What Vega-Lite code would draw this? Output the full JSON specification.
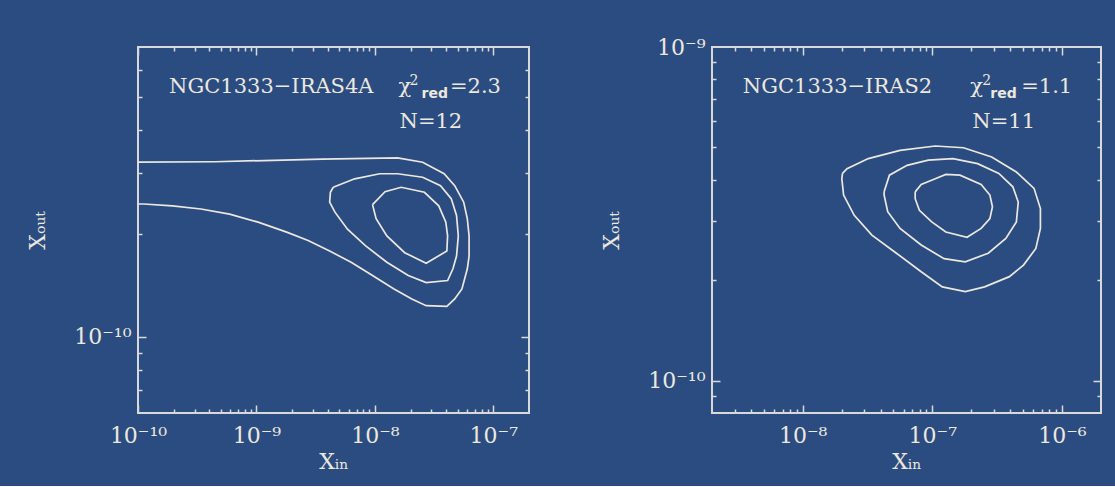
{
  "$schema": "https://vega.github.io/schema/vega-lite/v6.json",
  "background": "#2b4c80",
  "padding": {"left": 25, "top": 35, "right": 15, "bottom": 13},
  "bounds": "flush",
  "spacing": 183,
  "datasets": {
    "contours": [
      {"p":"L","c":1,"o":1,"xin":1e-10,"xout":3.23e-10},
      {"p":"L","c":1,"o":2,"xin":4.49e-10,"xout":3.24e-10},
      {"p":"L","c":1,"o":3,"xin":3.61e-9,"xout":3.30e-10},
      {"p":"L","c":1,"o":4,"xin":1.554e-8,"xout":3.325e-10},
      {"p":"L","c":1,"o":5,"xin":2.53e-8,"xout":3.23e-10},
      {"p":"L","c":1,"o":6,"xin":3.84e-8,"xout":2.99e-10},
      {"p":"L","c":1,"o":7,"xin":4.72e-8,"xout":2.76e-10},
      {"p":"L","c":1,"o":8,"xin":5.62e-8,"xout":2.47e-10},
      {"p":"L","c":1,"o":9,"xin":6.03e-8,"xout":2.21e-10},
      {"p":"L","c":1,"o":10,"xin":6.24e-8,"xout":1.97e-10},
      {"p":"L","c":1,"o":11,"xin":6.24e-8,"xout":1.72e-10},
      {"p":"L","c":1,"o":12,"xin":6.03e-8,"xout":1.58e-10},
      {"p":"L","c":1,"o":13,"xin":5.43e-8,"xout":1.38e-10},
      {"p":"L","c":1,"o":14,"xin":4.72e-8,"xout":1.29e-10},
      {"p":"L","c":1,"o":15,"xin":4.05e-8,"xout":1.227e-10},
      {"p":"L","c":1,"o":16,"xin":2.71e-8,"xout":1.233e-10},
      {"p":"L","c":1,"o":17,"xin":2.05e-8,"xout":1.29e-10},
      {"p":"L","c":1,"o":18,"xin":1.45e-8,"xout":1.38e-10},
      {"p":"L","c":1,"o":19,"xin":9.55e-9,"xout":1.51e-10},
      {"p":"L","c":1,"o":20,"xin":6.30e-9,"xout":1.65e-10},
      {"p":"L","c":1,"o":21,"xin":4.15e-9,"xout":1.78e-10},
      {"p":"L","c":1,"o":22,"xin":2.73e-9,"xout":1.91e-10},
      {"p":"L","c":1,"o":23,"xin":1.80e-9,"xout":2.02e-10},
      {"p":"L","c":1,"o":24,"xin":1.033e-9,"xout":2.16e-10},
      {"p":"L","c":1,"o":25,"xin":5.93e-10,"xout":2.28e-10},
      {"p":"L","c":1,"o":26,"xin":3.40e-10,"xout":2.36e-10},
      {"p":"L","c":1,"o":27,"xin":1.95e-10,"xout":2.41e-10},
      {"p":"L","c":1,"o":28,"xin":1.118e-10,"xout":2.44e-10},
      {"p":"L","c":1,"o":29,"xin":1e-10,"xout":2.44e-10},

      {"p":"L","c":2,"o":1,"xin":4.45e-9,"xout":2.73e-10},
      {"p":"L","c":2,"o":2,"xin":6.75e-9,"xout":2.89e-10},
      {"p":"L","c":2,"o":3,"xin":1.098e-8,"xout":2.99e-10},
      {"p":"L","c":2,"o":4,"xin":1.554e-8,"xout":2.99e-10},
      {"p":"L","c":2,"o":5,"xin":2.53e-8,"xout":2.92e-10},
      {"p":"L","c":2,"o":6,"xin":3.58e-8,"xout":2.76e-10},
      {"p":"L","c":2,"o":7,"xin":4.41e-8,"xout":2.53e-10},
      {"p":"L","c":2,"o":8,"xin":4.89e-8,"xout":2.26e-10},
      {"p":"L","c":2,"o":9,"xin":5.06e-8,"xout":1.97e-10},
      {"p":"L","c":2,"o":10,"xin":4.89e-8,"xout":1.72e-10},
      {"p":"L","c":2,"o":11,"xin":4.56e-8,"xout":1.58e-10},
      {"p":"L","c":2,"o":12,"xin":4.11e-8,"xout":1.46e-10},
      {"p":"L","c":2,"o":13,"xin":2.71e-8,"xout":1.44e-10},
      {"p":"L","c":2,"o":14,"xin":1.913e-8,"xout":1.51e-10},
      {"p":"L","c":2,"o":15,"xin":1.262e-8,"xout":1.65e-10},
      {"p":"L","c":2,"o":16,"xin":8.31e-9,"xout":1.845e-10},
      {"p":"L","c":2,"o":17,"xin":5.87e-9,"xout":2.06e-10},
      {"p":"L","c":2,"o":18,"xin":4.60e-9,"xout":2.31e-10},
      {"p":"L","c":2,"o":19,"xin":4.15e-9,"xout":2.47e-10},
      {"p":"L","c":2,"o":20,"xin":4.21e-9,"xout":2.64e-10},
      {"p":"L","c":2,"o":21,"xin":4.45e-9,"xout":2.73e-10},

      {"p":"L","c":3,"o":1,"xin":9.55e-9,"xout":2.43e-10},
      {"p":"L","c":3,"o":2,"xin":1.218e-8,"xout":2.65e-10},
      {"p":"L","c":3,"o":3,"xin":1.666e-8,"xout":2.73e-10},
      {"p":"L","c":3,"o":4,"xin":2.62e-8,"xout":2.64e-10},
      {"p":"L","c":3,"o":5,"xin":3.46e-8,"xout":2.41e-10},
      {"p":"L","c":3,"o":6,"xin":3.97e-8,"xout":2.16e-10},
      {"p":"L","c":3,"o":7,"xin":4.11e-8,"xout":1.97e-10},
      {"p":"L","c":3,"o":8,"xin":4.05e-8,"xout":1.78e-10},
      {"p":"L","c":3,"o":9,"xin":2.71e-8,"xout":1.64e-10},
      {"p":"L","c":3,"o":10,"xin":1.785e-8,"xout":1.76e-10},
      {"p":"L","c":3,"o":11,"xin":1.262e-8,"xout":1.97e-10},
      {"p":"L","c":3,"o":12,"xin":1.024e-8,"xout":2.21e-10},
      {"p":"L","c":3,"o":13,"xin":9.55e-9,"xout":2.43e-10},

      {"p":"R","c":1,"o":1,"xin":2.03e-8,"xout":4.18e-10},
      {"p":"R","c":1,"o":2,"xin":2.20e-8,"xout":4.32e-10},
      {"p":"R","c":1,"o":3,"xin":3.21e-8,"xout":4.63e-10},
      {"p":"R","c":1,"o":4,"xin":5.64e-8,"xout":4.90e-10},
      {"p":"R","c":1,"o":5,"xin":1.054e-7,"xout":5.05e-10},
      {"p":"R","c":1,"o":6,"xin":1.74e-7,"xout":4.99e-10},
      {"p":"R","c":1,"o":7,"xin":2.87e-7,"xout":4.68e-10},
      {"p":"R","c":1,"o":8,"xin":4.45e-7,"xout":4.22e-10},
      {"p":"R","c":1,"o":9,"xin":6.09e-7,"xout":3.77e-10},
      {"p":"R","c":1,"o":10,"xin":6.82e-7,"xout":3.28e-10},
      {"p":"R","c":1,"o":11,"xin":6.82e-7,"xout":2.86e-10},
      {"p":"R","c":1,"o":12,"xin":6.29e-7,"xout":2.49e-10},
      {"p":"R","c":1,"o":13,"xin":5.05e-7,"xout":2.22e-10},
      {"p":"R","c":1,"o":14,"xin":3.93e-7,"xout":2.05e-10},
      {"p":"R","c":1,"o":15,"xin":2.53e-7,"xout":1.91e-10},
      {"p":"R","c":1,"o":16,"xin":1.795e-7,"xout":1.85e-10},
      {"p":"R","c":1,"o":17,"xin":1.195e-7,"xout":1.91e-10},
      {"p":"R","c":1,"o":18,"xin":8.21e-8,"xout":2.12e-10},
      {"p":"R","c":1,"o":19,"xin":5.29e-8,"xout":2.41e-10},
      {"p":"R","c":1,"o":20,"xin":3.42e-8,"xout":2.73e-10},
      {"p":"R","c":1,"o":21,"xin":2.50e-8,"xout":3.13e-10},
      {"p":"R","c":1,"o":22,"xin":2.07e-8,"xout":3.60e-10},
      {"p":"R","c":1,"o":23,"xin":2.005e-8,"xout":4.03e-10},
      {"p":"R","c":1,"o":24,"xin":2.03e-8,"xout":4.18e-10},

      {"p":"R","c":2,"o":1,"xin":4.25e-8,"xout":3.68e-10},
      {"p":"R","c":2,"o":2,"xin":4.67e-8,"xout":4.13e-10},
      {"p":"R","c":2,"o":3,"xin":6.39e-8,"xout":4.42e-10},
      {"p":"R","c":2,"o":4,"xin":9.30e-8,"xout":4.58e-10},
      {"p":"R","c":2,"o":5,"xin":1.442e-7,"xout":4.63e-10},
      {"p":"R","c":2,"o":6,"xin":2.236e-7,"xout":4.47e-10},
      {"p":"R","c":2,"o":7,"xin":3.26e-7,"xout":4.18e-10},
      {"p":"R","c":2,"o":8,"xin":4.18e-7,"xout":3.81e-10},
      {"p":"R","c":2,"o":9,"xin":4.60e-7,"xout":3.43e-10},
      {"p":"R","c":2,"o":10,"xin":4.45e-7,"xout":2.99e-10},
      {"p":"R","c":2,"o":11,"xin":3.69e-7,"xout":2.67e-10},
      {"p":"R","c":2,"o":12,"xin":2.70e-7,"xout":2.41e-10},
      {"p":"R","c":2,"o":13,"xin":1.795e-7,"xout":2.27e-10},
      {"p":"R","c":2,"o":14,"xin":1.233e-7,"xout":2.32e-10},
      {"p":"R","c":2,"o":15,"xin":8.21e-8,"xout":2.55e-10},
      {"p":"R","c":2,"o":16,"xin":5.64e-8,"xout":2.86e-10},
      {"p":"R","c":2,"o":17,"xin":4.53e-8,"xout":3.21e-10},
      {"p":"R","c":2,"o":18,"xin":4.25e-8,"xout":3.60e-10},
      {"p":"R","c":2,"o":19,"xin":4.25e-8,"xout":3.68e-10},

      {"p":"R","c":3,"o":1,"xin":7.38e-8,"xout":3.68e-10},
      {"p":"R","c":3,"o":2,"xin":8.21e-8,"xout":3.87e-10},
      {"p":"R","c":3,"o":3,"xin":1.054e-7,"xout":4.03e-10},
      {"p":"R","c":3,"o":4,"xin":1.272e-7,"xout":4.15e-10},
      {"p":"R","c":3,"o":5,"xin":1.634e-7,"xout":4.13e-10},
      {"p":"R","c":3,"o":6,"xin":2.38e-7,"xout":3.87e-10},
      {"p":"R","c":3,"o":7,"xin":2.78e-7,"xout":3.60e-10},
      {"p":"R","c":3,"o":8,"xin":2.91e-7,"xout":3.32e-10},
      {"p":"R","c":3,"o":9,"xin":2.78e-7,"xout":3.06e-10},
      {"p":"R","c":3,"o":10,"xin":2.38e-7,"xout":2.86e-10},
      {"p":"R","c":3,"o":11,"xin":1.852e-7,"xout":2.69e-10},
      {"p":"R","c":3,"o":12,"xin":1.272e-7,"xout":2.79e-10},
      {"p":"R","c":3,"o":13,"xin":9.90e-8,"xout":2.99e-10},
      {"p":"R","c":3,"o":14,"xin":7.95e-8,"xout":3.24e-10},
      {"p":"R","c":3,"o":15,"xin":7.38e-8,"xout":3.51e-10},
      {"p":"R","c":3,"o":16,"xin":7.38e-8,"xout":3.68e-10}
    ],
    "texts": [
      {"p":"L","part":"main","t":"NGC1333−IRAS4A","xin":1.83e-10,"xout":5.13e-10},
      {"p":"L","part":"main","t":"χ","xin":1.58e-8,"xout":5.13e-10},
      {"p":"L","part":"main","t":"=2.3","xin":4.3e-8,"xout":5.13e-10},
      {"p":"L","part":"main","t":"N=12","xin":1.614e-8,"xout":4.06e-10},
      {"p":"L","part":"sup","t":"2","xin":1.963e-8,"xout":5.13e-10},
      {"p":"L","part":"sub","t":"red","xin":2.48e-8,"xout":5.13e-10},
      {"p":"R","part":"main","t":"NGC1333−IRAS2","xin":3.46e-9,"xout":7.28e-10},
      {"p":"R","part":"main","t":"χ","xin":1.965e-7,"xout":7.28e-10},
      {"p":"R","part":"main","t":"=1.1","xin":4.85e-7,"xout":7.28e-10},
      {"p":"R","part":"main","t":"N=11","xin":2.035e-7,"xout":5.71e-10},
      {"p":"R","part":"sup","t":"2","xin":2.43e-7,"xout":7.28e-10},
      {"p":"R","part":"sub","t":"red","xin":2.80e-7,"xout":7.28e-10}
    ]
  },
  "hconcat": [
    {
      "width": 391,
      "height": 366,
      "resolve": {"axis": {"x": "independent", "y": "independent"}},
      "layer": [
        {
          "data": {"name": "contours"},
          "transform": [{"filter": "datum.p == 'L'"}],
          "mark": {"type": "line", "color": "#ece8df", "strokeWidth": 1.7, "clip": true},
          "encoding": {
            "x": {"field": "xin", "type": "quantitative",
              "scale": {"type": "log", "domain": [1e-10, 2e-7], "nice": false},
              "axis": {"orient": "bottom", "values": [1e-10, 1e-9, 1e-8, 1e-7], "ticks": false, "labelPadding": 12,
                "labelExpr": "'10' + (round(log(datum.value)/LN10) == -10 ? '⁻¹⁰' : round(log(datum.value)/LN10) == -9 ? '⁻⁹' : round(log(datum.value)/LN10) == -8 ? '⁻⁸' : round(log(datum.value)/LN10) == -7 ? '⁻⁷' : '⁻⁶')",
                "title": "Xᵢₙ", "titlePadding": 5}},
            "y": {"field": "xout", "type": "quantitative",
              "scale": {"type": "log", "domain": [6e-11, 7e-10], "nice": false},
              "axis": {"orient": "left", "values": [1e-10], "ticks": false, "labelPadding": 7,
                "labelExpr": "'10' + (round(log(datum.value)/LN10) == -10 ? '⁻¹⁰' : '⁻⁹')",
                "title": "Xₒᵤₜ", "titlePadding": 24}},
            "detail": {"field": "c", "type": "nominal"},
            "order": {"field": "o", "type": "quantitative"}
          }
        },
        {
          "data": {"name": "texts"},
          "transform": [{"filter": "datum.p == 'L' && datum.part == 'main'"}],
          "mark": {"type": "text", "align": "left", "baseline": "alphabetic", "font": "DejaVu Serif", "fontSize": 21, "color": "#ece8df"},
          "encoding": {
            "x": {"field": "xin", "type": "quantitative",
              "scale": {"type": "log", "domain": [1e-10, 2e-7], "nice": false},
              "axis": {"orient": "bottom", "labels": false, "title": null,
                "values": [1e-10,2e-10,3e-10,4e-10,5e-10,6e-10,7e-10,8e-10,9e-10,1e-9,2e-9,3e-9,4e-9,5e-9,6e-9,7e-9,8e-9,9e-9,1e-8,2e-8,3e-8,4e-8,5e-8,6e-8,7e-8,8e-8,9e-8,1e-7],
                "tickSize": {"condition": {"test": "abs(log(datum.value)/LN10 - round(log(datum.value)/LN10)) < 0.001", "value": -8}, "value": -4}}},
            "y": {"field": "xout", "type": "quantitative",
              "scale": {"type": "log", "domain": [6e-11, 7e-10], "nice": false},
              "axis": {"orient": "left", "labels": false, "title": null,
                "values": [7e-11,8e-11,9e-11,1e-10,2e-10,3e-10,4e-10,5e-10,6e-10],
                "tickSize": {"condition": {"test": "abs(log(datum.value)/LN10 - round(log(datum.value)/LN10)) < 0.001", "value": -8}, "value": -4}}},
            "text": {"field": "t"}
          }
        },
        {
          "data": {"name": "texts"},
          "transform": [{"filter": "datum.p == 'L' && datum.part == 'sup'"}],
          "mark": {"type": "text", "align": "left", "baseline": "alphabetic", "font": "DejaVu Serif", "fontSize": 14, "dy": -8, "color": "#ece8df"},
          "encoding": {
            "x": {"field": "xin", "type": "quantitative",
              "scale": {"type": "log", "domain": [1e-10, 2e-7], "nice": false},
              "axis": {"orient": "top", "labels": false, "title": null,
                "values": [1e-10,2e-10,3e-10,4e-10,5e-10,6e-10,7e-10,8e-10,9e-10,1e-9,2e-9,3e-9,4e-9,5e-9,6e-9,7e-9,8e-9,9e-9,1e-8,2e-8,3e-8,4e-8,5e-8,6e-8,7e-8,8e-8,9e-8,1e-7],
                "tickSize": {"condition": {"test": "abs(log(datum.value)/LN10 - round(log(datum.value)/LN10)) < 0.001", "value": -8}, "value": -4}}},
            "y": {"field": "xout", "type": "quantitative",
              "scale": {"type": "log", "domain": [6e-11, 7e-10], "nice": false},
              "axis": {"orient": "right", "labels": false, "title": null,
                "values": [7e-11,8e-11,9e-11,1e-10,2e-10,3e-10,4e-10,5e-10,6e-10],
                "tickSize": {"condition": {"test": "abs(log(datum.value)/LN10 - round(log(datum.value)/LN10)) < 0.001", "value": -8}, "value": -4}}},
            "text": {"field": "t"}
          }
        },
        {
          "data": {"name": "texts"},
          "transform": [{"filter": "datum.p == 'L' && datum.part == 'sub'"}],
          "mark": {"type": "text", "align": "left", "baseline": "alphabetic", "font": "DejaVu Sans", "fontWeight": "bold", "fontSize": 14, "dy": 5, "color": "#ece8df"},
          "encoding": {
            "x": {"field": "xin", "type": "quantitative", "scale": {"type": "log", "domain": [1e-10, 2e-7], "nice": false}, "axis": null},
            "y": {"field": "xout", "type": "quantitative", "scale": {"type": "log", "domain": [6e-11, 7e-10], "nice": false}, "axis": null},
            "text": {"field": "t"}
          }
        }
      ]
    },
    {
      "width": 389,
      "height": 366,
      "resolve": {"axis": {"x": "independent", "y": "independent"}},
      "layer": [
        {
          "data": {"name": "contours"},
          "transform": [{"filter": "datum.p == 'R'"}],
          "mark": {"type": "line", "color": "#ece8df", "strokeWidth": 1.7, "clip": true},
          "encoding": {
            "x": {"field": "xin", "type": "quantitative",
              "scale": {"type": "log", "domain": [2e-9, 2e-6], "nice": false},
              "axis": {"orient": "bottom", "values": [1e-8, 1e-7, 1e-6], "ticks": false, "labelPadding": 12,
                "labelExpr": "'10' + (round(log(datum.value)/LN10) == -8 ? '⁻⁸' : round(log(datum.value)/LN10) == -7 ? '⁻⁷' : '⁻⁶')",
                "title": "Xᵢₙ", "titlePadding": 5}},
            "y": {"field": "xout", "type": "quantitative",
              "scale": {"type": "log", "domain": [8e-11, 1e-9], "nice": false},
              "axis": {"orient": "left", "values": [1e-10, 1e-9], "ticks": false, "labelPadding": 7,
                "labelExpr": "'10' + (round(log(datum.value)/LN10) == -10 ? '⁻¹⁰' : '⁻⁹')",
                "title": "Xₒᵤₜ", "titlePadding": 24}},
            "detail": {"field": "c", "type": "nominal"},
            "order": {"field": "o", "type": "quantitative"}
          }
        },
        {
          "data": {"name": "texts"},
          "transform": [{"filter": "datum.p == 'R' && datum.part == 'main'"}],
          "mark": {"type": "text", "align": "left", "baseline": "alphabetic", "font": "DejaVu Serif", "fontSize": 21, "color": "#ece8df"},
          "encoding": {
            "x": {"field": "xin", "type": "quantitative",
              "scale": {"type": "log", "domain": [2e-9, 2e-6], "nice": false},
              "axis": {"orient": "bottom", "labels": false, "title": null,
                "values": [3e-9,4e-9,5e-9,6e-9,7e-9,8e-9,9e-9,1e-8,2e-8,3e-8,4e-8,5e-8,6e-8,7e-8,8e-8,9e-8,1e-7,2e-7,3e-7,4e-7,5e-7,6e-7,7e-7,8e-7,9e-7,1e-6],
                "tickSize": {"condition": {"test": "abs(log(datum.value)/LN10 - round(log(datum.value)/LN10)) < 0.001", "value": -8}, "value": -4}}},
            "y": {"field": "xout", "type": "quantitative",
              "scale": {"type": "log", "domain": [8e-11, 1e-9], "nice": false},
              "axis": {"orient": "left", "labels": false, "title": null,
                "values": [9e-11,1e-10,2e-10,3e-10,4e-10,5e-10,6e-10,7e-10,8e-10,9e-10],
                "tickSize": {"condition": {"test": "abs(log(datum.value)/LN10 - round(log(datum.value)/LN10)) < 0.001", "value": -8}, "value": -4}}},
            "text": {"field": "t"}
          }
        },
        {
          "data": {"name": "texts"},
          "transform": [{"filter": "datum.p == 'R' && datum.part == 'sup'"}],
          "mark": {"type": "text", "align": "left", "baseline": "alphabetic", "font": "DejaVu Serif", "fontSize": 14, "dy": -8, "color": "#ece8df"},
          "encoding": {
            "x": {"field": "xin", "type": "quantitative",
              "scale": {"type": "log", "domain": [2e-9, 2e-6], "nice": false},
              "axis": {"orient": "top", "labels": false, "title": null,
                "values": [3e-9,4e-9,5e-9,6e-9,7e-9,8e-9,9e-9,1e-8,2e-8,3e-8,4e-8,5e-8,6e-8,7e-8,8e-8,9e-8,1e-7,2e-7,3e-7,4e-7,5e-7,6e-7,7e-7,8e-7,9e-7,1e-6],
                "tickSize": {"condition": {"test": "abs(log(datum.value)/LN10 - round(log(datum.value)/LN10)) < 0.001", "value": -8}, "value": -4}}},
            "y": {"field": "xout", "type": "quantitative",
              "scale": {"type": "log", "domain": [8e-11, 1e-9], "nice": false},
              "axis": {"orient": "right", "labels": false, "title": null,
                "values": [9e-11,1e-10,2e-10,3e-10,4e-10,5e-10,6e-10,7e-10,8e-10,9e-10],
                "tickSize": {"condition": {"test": "abs(log(datum.value)/LN10 - round(log(datum.value)/LN10)) < 0.001", "value": -8}, "value": -4}}},
            "text": {"field": "t"}
          }
        },
        {
          "data": {"name": "texts"},
          "transform": [{"filter": "datum.p == 'R' && datum.part == 'sub'"}],
          "mark": {"type": "text", "align": "left", "baseline": "alphabetic", "font": "DejaVu Sans", "fontWeight": "bold", "fontSize": 14, "dy": 5, "color": "#ece8df"},
          "encoding": {
            "x": {"field": "xin", "type": "quantitative", "scale": {"type": "log", "domain": [2e-9, 2e-6], "nice": false}, "axis": null},
            "y": {"field": "xout", "type": "quantitative", "scale": {"type": "log", "domain": [8e-11, 1e-9], "nice": false}, "axis": null},
            "text": {"field": "t"}
          }
        }
      ]
    }
  ],
  "config": {
    "view": {"stroke": "#d9d9d9", "strokeWidth": 2},
    "axis": {
      "grid": false,
      "domain": false,
      "labelFont": "DejaVu Serif",
      "labelFontSize": 22,
      "labelColor": "#ece8df",
      "titleFont": "DejaVu Serif",
      "titleFontSize": 22,
      "titleFontWeight": "normal",
      "titleColor": "#ece8df",
      "tickColor": "#d9d9d9",
      "tickWidth": 1.5,
      "labelFlush": false,
      "labelOverlap": false
    }
  }
}
